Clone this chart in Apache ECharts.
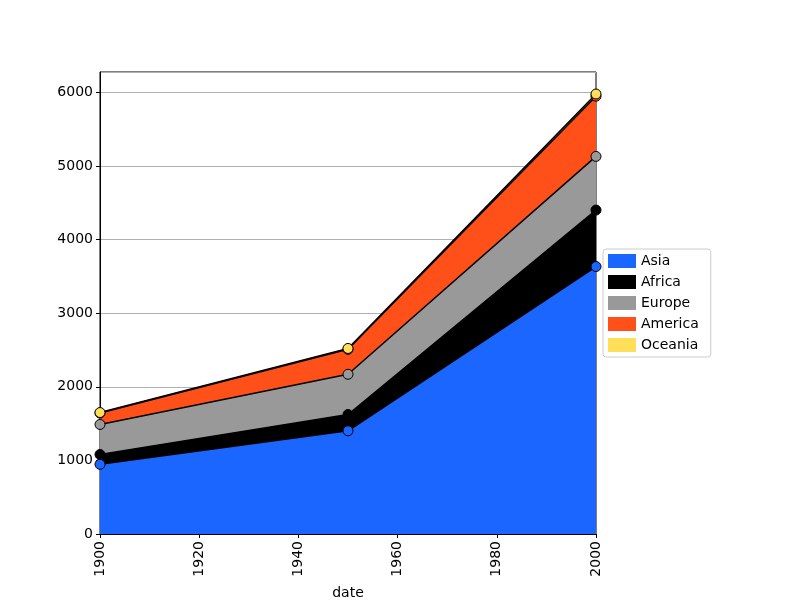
<!DOCTYPE html>
<html><head><meta charset="utf-8">
<script src="https://cdn.jsdelivr.net/npm/echarts@6/dist/echarts.min.js"></script>
<style>html,body{margin:0;padding:0;background:#fff}#c{width:800px;height:600px}</style>
</head><body><div id="c"></div>
<script>
const years = [1900, 1950, 2000];
const seriesNames = ['Asia', 'Africa', 'Europe', 'America', 'Oceania'];
const asia = [947, 1402, 3634];
const africa = [133, 221, 767];
const europe = [408, 547, 729];
const america = [156, 339, 818];
const oceania = [6, 12, 30];
const xTicks = [1900, 1920, 1940, 1960, 1980, 2000];
const yTicks = [0, 1000, 2000, 3000, 4000, 5000, 6000];
const colors = ['#1a66ff', '#000000', '#999999', '#ff5019', '#ffdf57'];

const values = [asia, africa, europe, america, oceania];
// cumulative stacking
const cum = [];
values.forEach((arr, i) => {
  cum.push(arr.map((v, k) => v + (i > 0 ? cum[i - 1][k] : 0)));
});
const chart = echarts.init(document.getElementById('c'), null, {renderer: 'canvas'});
const font = 'DejaVu Sans';
const areaSeries = seriesNames.map((n, i) => ({
  name: n,
  type: 'line',
  data: years.map((y, k) => [y, cum[i][k]]),
  symbol: 'none',
  itemStyle: {color: colors[i]},
  lineStyle: {width: 0, color: colors[i]},
  areaStyle: {color: colors[i], opacity: 1, origin: 'start'},
  emphasis: {disabled: true},
  silent: true,
  z: 10 - i
}));
const lineSeries = seriesNames.map((n, i) => ({
  name: n + ' ',
  type: 'line',
  data: years.map((y, k) => [y, cum[i][k]]),
  symbol: 'circle',
  symbolSize: 10,
  showAllSymbol: true,
  clip: true,
  itemStyle: {color: colors[i], borderColor: '#000', borderWidth: 1},
  lineStyle: {color: '#000', width: 1.5},
  emphasis: {disabled: true},
  silent: true,
  z: 20 + i
}));
chart.setOption({
  animation: false,
  backgroundColor: '#fff',
  textStyle: {fontFamily: font},
  grid: {left: 100, right: 204, top: 72, bottom: 66, show: true, borderColor: '#000', borderWidth: 1,
    backgroundColor: 'transparent', containLabel: false, outerBoundsMode: 'none'},
  legend: {
    orient: 'vertical', left: 603, top: 249,
    icon: 'rect', itemWidth: 28, itemHeight: 14, itemGap: 7,
    padding: [5, 12, 5, 5],
    borderColor: '#cccccc', borderWidth: 1, borderRadius: 3,
    backgroundColor: '#fff',
    itemStyle: {borderWidth: 0},
    textStyle: {fontFamily: font, fontSize: 14, color: '#000'},
    data: seriesNames
  },
  xAxis: {
    type: 'value', min: 1900, max: 2000, interval: 20,
    name: 'date', nameLocation: 'middle', nameGap: 52,
    nameTextStyle: {fontFamily: font, fontSize: 14, color: '#000'},
    axisLine: {show: true, onZero: false, lineStyle: {color: '#000'}},
    axisTick: {show: true, length: 4, inside: false, lineStyle: {color: '#000'}},
    axisLabel: {rotate: 90, color: '#000', fontSize: 14, fontFamily: font, margin: 7,
      formatter: v => xTicks.includes(v) ? String(v) : ''},
    splitLine: {show: false}
  },
  yAxis: {
    type: 'value', min: 0, max: 6277, interval: 1000,
    axisLine: {show: true, lineStyle: {color: '#000'}},
    axisTick: {show: true, length: 4, lineStyle: {color: '#000'}},
    axisLabel: {color: '#000', fontSize: 14, fontFamily: font, margin: 7, showMaxLabel: false,
      formatter: v => yTicks.includes(v) ? String(v) : ''},
    splitLine: {show: true, lineStyle: {color: '#b0b0b0', width: 1}}
  },
  series: areaSeries.concat(lineSeries)
});
</script>
</body></html>
